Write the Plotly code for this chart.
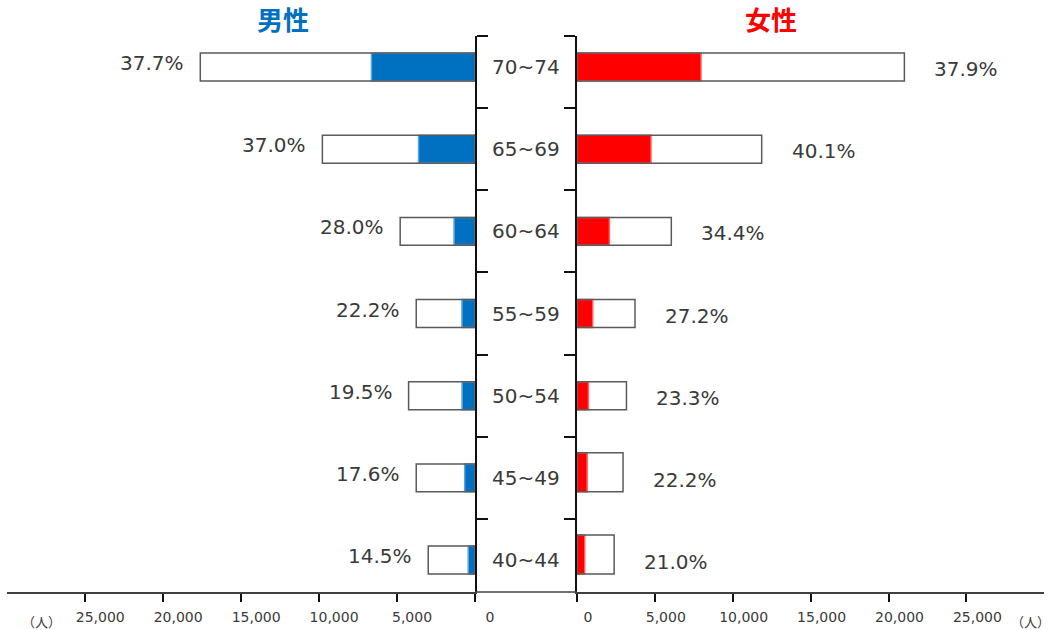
import plotly.graph_objects as go

# Age groups, listed from the bottom row to the top row
ages = ["40~44", "45~49", "50~54", "55~59", "60~64", "65~69", "70~74"]

# Male: total persons per age group and share (%) highlighted in blue
male_total = [3000, 3770, 4260, 3770, 4800, 9790, 17620]
male_pct = [14.5, 17.6, 19.5, 22.2, 28.0, 37.0, 37.7]

# Female: total persons per age group and share (%) highlighted in red
female_total = [2390, 2960, 3180, 3730, 6060, 11860, 21020]
female_pct = [21.0, 22.2, 23.3, 27.2, 34.4, 40.1, 37.9]

tick_vals = [0, 5000, 10000, 15000, 20000, 25000]
tick_text = ["0", "5,000", "10,000", "15,000", "20,000", "25,000"]

W, H = 1052, 630
pos = list(range(len(ages)))
male_part = [t * p / 100 for t, p in zip(male_total, male_pct)]
female_part = [t * p / 100 for t, p in zip(female_total, female_pct)]

# bar thickness (category units); the two lowest female rows are drawn taller
male_w = [0.34] * len(ages)
female_w = [0.475, 0.475, 0.34, 0.34, 0.34, 0.34, 0.34]
bar_off = -0.17

BLUE = "#0070C0"
RED = "#FF0000"
TXT = "#3a3a3a"
FONT = "DejaVu Sans"

fig = go.Figure()

fig.add_trace(go.Bar(
    x=male_part, y=pos, orientation="h", xaxis="x", yaxis="y",
    width=male_w, offset=bar_off,
    marker=dict(color=BLUE, line=dict(color="#5fa3dc", width=1.5)),
    hoverinfo="skip", showlegend=False))
fig.add_trace(go.Bar(
    x=male_total, y=pos, orientation="h", xaxis="x", yaxis="y",
    width=male_w, offset=bar_off,
    marker=dict(color="rgba(0,0,0,0)", line=dict(color="#5a5a5a", width=1.5)),
    hoverinfo="skip", showlegend=False))
fig.add_trace(go.Bar(
    x=female_part, y=pos, orientation="h", xaxis="x2", yaxis="y2",
    width=female_w, offset=bar_off,
    marker=dict(color=RED, line=dict(color="#ff6060", width=1.5)),
    hoverinfo="skip", showlegend=False))
fig.add_trace(go.Bar(
    x=female_total, y=pos, orientation="h", xaxis="x2", yaxis="y2",
    width=female_w, offset=bar_off,
    marker=dict(color="rgba(0,0,0,0)", line=dict(color="#5a5a5a", width=1.5)),
    hoverinfo="skip", showlegend=False))

# pixel layout of the two halves
male_dom = [7.3 / W, 475.0 / W]
female_dom = [576.9 / W, 1044.3 / W]
y_dom = [1 - 592 / H, 1 - 35.7 / H]
y_rng = [-0.389, 6.381]
bounds = [i + 0.5 for i in range(len(ages) - 1)] + [y_rng[1] - 0.001]

xa = dict(showgrid=False, zeroline=False, showline=True, linecolor="#404040",
          linewidth=1.5, ticks="outside", ticklen=8, tickwidth=2,
          tickcolor="#111111", tickvals=tick_vals, ticktext=tick_text,
          tickfont=dict(family=FONT, size=14, color=TXT), ticklabelstandoff=3,
          fixedrange=True, automargin=False)
xa_in = dict(showgrid=False, zeroline=False, showline=False, ticks="inside",
             ticklen=7, tickwidth=2, tickcolor="#111111", tickvals=tick_vals,
             showticklabels=False, automargin=False)
ya = dict(range=y_rng, domain=y_dom, showgrid=False, zeroline=False,
          showline=True, linecolor="#111111", ticks="outside", ticklen=11,
          tickwidth=1.5, tickcolor="#111111", tickvals=bounds,
          showticklabels=False, automargin=False)
ya_in = dict(range=y_rng, domain=y_dom, showgrid=False, zeroline=False,
             showline=False, ticks="inside", ticklen=11, tickwidth=1.5,
             tickcolor="#111111", tickvals=bounds, showticklabels=False,
             automargin=False)

fig.update_layout(
    width=W, height=H, margin=dict(l=0, r=0, t=0, b=0, autoexpand=False),
    paper_bgcolor="white", plot_bgcolor="rgba(0,0,0,0)",
    barmode="overlay", showlegend=False,
    xaxis=dict(**xa, domain=male_dom, range=[30000, 0], anchor="y",
               ticklabelshift=-15),
    xaxis2=dict(**xa, domain=female_dom, range=[0, 30000], anchor="y2",
                ticklabelshift=11),
    xaxis3=dict(**xa_in, domain=male_dom, range=[30000, 0], anchor="y",
                overlaying="x"),
    xaxis4=dict(**xa_in, domain=female_dom, range=[0, 30000], anchor="y2",
                overlaying="x2"),
    yaxis=dict(**ya, anchor="x", side="right", linewidth=1.6),
    yaxis2=dict(**ya, anchor="x2", side="left", linewidth=2.4),
    yaxis3=dict(**ya_in, anchor="x", side="right", overlaying="y"),
    yaxis4=dict(**ya_in, anchor="x2", side="left", overlaying="y2"),
)

# baseline bridging the gap between the two halves
fig.add_shape(type="line", xref="paper", yref="paper",
              x0=male_dom[1], x1=female_dom[0], y0=y_dom[0], y1=y_dom[0],
              line=dict(color="#404040", width=1.5))

annotations = []
for i, a in enumerate(ages):
    annotations.append(dict(x=0.4998, y=pos[i], xref="paper", yref="y",
                            text=a, showarrow=False, xanchor="center",
                            yanchor="middle",
                            font=dict(family=FONT, size=20, color=TXT)))
    annotations.append(dict(x=male_total[i], y=pos[i], xref="x", yref="y",
                            text=f"{male_pct[i]:.1f}%", showarrow=False,
                            xanchor="right", yanchor="middle", xshift=-14,
                            yshift=4,
                            font=dict(family=FONT, size=20, color=TXT)))
    annotations.append(dict(x=female_total[i], y=pos[i], xref="x2", yref="y2",
                            text=f"{female_pct[i]:.1f}%", showarrow=False,
                            xanchor="left", yanchor="middle", xshift=28,
                            yshift=-2,
                            font=dict(family=FONT, size=20, color=TXT)))

cjk = "Noto Sans CJK JP"
annotations += [
    dict(x=283 / W, y=1 - 18 / H, xref="paper", yref="paper", text="<b>男性</b>",
         showarrow=False, xanchor="center", yanchor="middle",
         font=dict(family=cjk, size=26, color=BLUE)),
    dict(x=771 / W, y=1 - 18 / H, xref="paper", yref="paper", text="<b>女性</b>",
         showarrow=False, xanchor="center", yanchor="middle",
         font=dict(family=cjk, size=26, color=RED)),
    dict(x=41 / W, y=1 - 621 / H, xref="paper", yref="paper", text="（人）",
         showarrow=False, xanchor="center", yanchor="middle",
         font=dict(family=cjk, size=13, color=TXT)),
    dict(x=1030 / W, y=1 - 621 / H, xref="paper", yref="paper", text="（人）",
         showarrow=False, xanchor="center", yanchor="middle",
         font=dict(family=cjk, size=13, color=TXT)),
]
fig.update_layout(annotations=annotations)

fig.write_html("out.html")
